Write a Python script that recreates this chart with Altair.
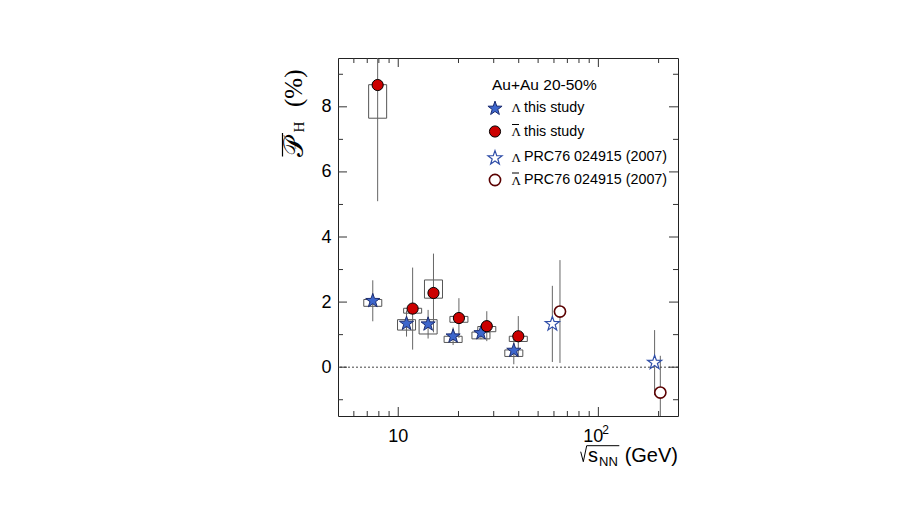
import altair as alt
import pandas as pd

# ---------------- data ----------------
lam_x = [7.46, 11.0, 14.1, 18.8, 25.9, 37.8]
lam_y = [2.04, 1.34, 1.32, 0.95, 1.05, 0.51]
lam_stat = [0.63, 0.40, 0.44, 0.27, 0.19, 0.42]
lam_sys_lo = [1.87, 1.14, 1.02, 0.76, 0.87, 0.33]
lam_sys_hi = [2.08, 1.46, 1.46, 0.95, 1.08, 0.53]

alam_x = [7.89, 11.8, 15.0, 20.1, 27.7, 39.8]
alam_y = [8.67, 1.80, 2.28, 1.51, 1.26, 0.95]
alam_stat = [3.57, 1.26, 1.21, 0.61, 0.46, 0.62]
alam_sys_lo = [7.65, 1.66, 2.12, 1.38, 1.09, 0.79]
alam_sys_hi = [8.68, 1.81, 2.68, 1.56, 1.25, 0.95]

prc_lam_x = [58.9, 191.0]
prc_lam_y = [1.33, 0.14]
prc_lam_err = [1.17, 1.00]

prc_alam_x = [64.3, 204.0]
prc_alam_y = [1.71, -0.78]
prc_alam_err = [1.58, 1.13]

x_major = [10, 100]
x_major_text = ["10", "10"]
x_major_exp = ["", "2"]
x_minor = [6, 7, 8, 9, 20, 30, 40, 50, 60, 70, 80, 90, 200]
y_major = [0, 2, 4, 6, 8]
y_minor = [-1, 1, 3, 5, 7, 9]

legend_title = "Au+Au 20-50%"
legend_texts = ["this study", "this study", "PRC76 024915 (2007)", "PRC76 024915 (2007)"]

# ---------------- layout ----------------
W, H = 340, 358
BOX_HALF = 0.045  # half width of systematic boxes in decades
FONT = "Liberation Sans"
SERIF = "Liberation Serif"
STAR = ("M0,-1L0.235,-0.324L0.951,-0.309L0.380,0.124L0.588,0.809L0,0.4"
        "L-0.588,0.809L-0.380,0.124L-0.951,-0.309L-0.235,-0.324Z")

xs = alt.Scale(type="log", domain=[5, 250], nice=False)
ys = alt.Scale(domain=[-1.5, 9.5], nice=False, zero=False)

y_axis = alt.Axis(values=y_major, ticks=False, tickSize=0, domain=False, grid=False,
                  title=None, labelFont=FONT, labelFontSize=18, labelColor="black",
                  labelPadding=7)

X = lambda f: alt.X(f, type="quantitative", scale=xs, axis=None)
Y = lambda f: alt.Y(f, type="quantitative", scale=ys, axis=y_axis)

def df_points(x, y):
    return pd.DataFrame({"x": x, "y": y})

err = pd.DataFrame({
    "x": lam_x + alam_x + prc_lam_x + prc_alam_x,
    "lo": [a - b for a, b in zip(lam_y, lam_stat)] + [a - b for a, b in zip(alam_y, alam_stat)]
          + [a - b for a, b in zip(prc_lam_y, prc_lam_err)] + [a - b for a, b in zip(prc_alam_y, prc_alam_err)],
    "hi": [a + b for a, b in zip(lam_y, lam_stat)] + [a + b for a, b in zip(alam_y, alam_stat)]
          + [a + b for a, b in zip(prc_lam_y, prc_lam_err)] + [a + b for a, b in zip(prc_alam_y, prc_alam_err)],
})

boxes = pd.DataFrame({
    "x1": [v / 10 ** BOX_HALF for v in lam_x + alam_x],
    "x2": [v * 10 ** BOX_HALF for v in lam_x + alam_x],
    "lo": lam_sys_lo + alam_sys_lo,
    "hi": lam_sys_hi + alam_sys_hi,
})

tick_color = "#333"
xmaj = pd.DataFrame({"v": x_major, "t": x_major_text, "e": x_major_exp})
xmin = pd.DataFrame({"v": x_minor})
ymaj = pd.DataFrame({"v": y_major})
ymin = pd.DataFrame({"v": y_minor})

ticks = []
for d, L in [(xmaj, 9), (xmin, 5)]:
    ticks.append(alt.Chart(d).mark_rule(color=tick_color, strokeWidth=1).encode(
        x=X("v"), y=alt.value(H), y2=alt.value(H - L)))
    ticks.append(alt.Chart(d).mark_rule(color=tick_color, strokeWidth=1).encode(
        x=X("v"), y=alt.value(0), y2=alt.value(L)))
for d, L in [(ymaj, 9), (ymin, 5)]:
    ticks.append(alt.Chart(d).mark_rule(color=tick_color, strokeWidth=1).encode(
        y=Y("v"), x=alt.value(0), x2=alt.value(L)))
    ticks.append(alt.Chart(d).mark_rule(color=tick_color, strokeWidth=1).encode(
        y=Y("v"), x=alt.value(W - L), x2=alt.value(W)))

# x tick labels: "10" and "10^2"
xlab_10 = alt.Chart(xmaj).transform_filter("datum.e == ''").mark_text(
    font=FONT, fontSize=18, baseline="alphabetic", align="center", color="black").encode(
    x=X("v"), y=alt.value(H + 26), text="t:N")
xlab_100 = alt.Chart(xmaj).transform_filter("datum.e != ''").mark_text(
    font=FONT, fontSize=18, baseline="alphabetic", align="center", color="black", dx=-5).encode(
    x=X("v"), y=alt.value(H + 26), text="t:N")
xlab_exp = alt.Chart(xmaj).transform_filter("datum.e != ''").mark_text(
    font=FONT, fontSize=12, baseline="alphabetic", align="left", color="black", dx=4).encode(
    x=X("v"), y=alt.value(H + 18), text="e:N")

zero_line = alt.Chart(pd.DataFrame({"y": [0]})).mark_rule(
    color="#444", strokeWidth=1, strokeDash=[2, 2]).encode(y=Y("y"))

box_layer = alt.Chart(boxes).mark_rect(fillOpacity=0, stroke="#555", strokeWidth=1, clip=True).encode(
    x=X("x1"), x2="x2", y=Y("lo"), y2="hi")

err_layer = alt.Chart(err).mark_rule(color="#666", strokeWidth=1, clip=True).encode(
    x=X("x"), y=Y("lo"), y2="hi")

STAR_SIZE = 220
CIRC_SIZE = 125
blue_fill, blue_edge = "#3d66cc", "#1c2c70"
red_fill = "#cc0000"

lam_pts = alt.Chart(df_points(lam_x, lam_y)).mark_point(
    shape=STAR, filled=True, size=STAR_SIZE, fill=blue_fill, stroke=blue_edge, strokeWidth=1,
    opacity=1, fillOpacity=1).encode(x=X("x"), y=Y("y"))
alam_pts = alt.Chart(df_points(alam_x, alam_y)).mark_point(
    shape="circle", filled=True, size=CIRC_SIZE, fill=red_fill, stroke="black", strokeWidth=1,
    opacity=1, fillOpacity=1).encode(x=X("x"), y=Y("y"))
prc_lam_pts = alt.Chart(df_points(prc_lam_x, prc_lam_y)).mark_point(
    shape=STAR, filled=True, size=STAR_SIZE, fill="white", stroke="#2f4ea8", strokeWidth=1.2,
    opacity=1, fillOpacity=1).encode(x=X("x"), y=Y("y"))
prc_alam_pts = alt.Chart(df_points(prc_alam_x, prc_alam_y)).mark_point(
    shape="circle", filled=True, size=CIRC_SIZE, fill="white", stroke="#5a0000", strokeWidth=1.6,
    opacity=1, fillOpacity=1).encode(x=X("x"), y=Y("y"))

one = pd.DataFrame({"a": [0]})

def txt(s, x, y, size, font=FONT, align="left", baseline="middle", angle=0, color="black", style="normal"):
    return alt.Chart(one).mark_text(text=s, font=font, fontSize=size, align=align, baseline=baseline,
                                    angle=angle, color=color, fontStyle=style).encode(
        x=alt.value(x), y=alt.value(y))

def seg(x1, y1, x2, y2, color="black", w=1):
    return alt.Chart(one).mark_rule(color=color, strokeWidth=w).encode(
        x=alt.value(x1), y=alt.value(y1), x2=alt.value(x2), y2=alt.value(y2))

# ---------------- legend ----------------
leg = [txt(legend_title, 154, 27, 15.5)]
row_y = [49.5, 73.5, 99, 122]
mx = 157
leg.append(alt.Chart(one).mark_point(shape=STAR, filled=True, size=STAR_SIZE, fill=blue_fill,
                                     stroke=blue_edge, strokeWidth=1, opacity=1).encode(
    x=alt.value(mx), y=alt.value(row_y[0] + 1)))
leg.append(alt.Chart(one).mark_point(shape="circle", filled=True, size=CIRC_SIZE, fill=red_fill,
                                     stroke="black", strokeWidth=1, opacity=1).encode(
    x=alt.value(mx), y=alt.value(row_y[1])))
leg.append(alt.Chart(one).mark_point(shape=STAR, filled=True, size=STAR_SIZE, fill="white",
                                     stroke="#2f4ea8", strokeWidth=1.2, opacity=1).encode(
    x=alt.value(mx), y=alt.value(row_y[2] + 1)))
leg.append(alt.Chart(one).mark_point(shape="circle", filled=True, size=CIRC_SIZE, fill="white",
                                     stroke="#5a0000", strokeWidth=1.6, opacity=1).encode(
    x=alt.value(mx), y=alt.value(row_y[3])))
for i, (ry, t) in enumerate(zip(row_y, legend_texts)):
    leg.append(txt("Λ", 173.5, ry + 0.5, 13, font=SERIF))
    leg.append(txt(t, 186, ry, 14.3))
    if i in (1, 3):
        leg.append(seg(174, ry - 7, 181, ry - 7, w=1))

# ---------------- axis titles ----------------
titles = []
# x title: sqrt(s_NN) (GeV)
titles += [seg(242.7, 393.7, 245.3, 403.7), seg(245.3, 403.7, 248.7, 387.7),
           seg(248.7, 387.7, 281.3, 387.7)]
titles.append(txt("s", 250, 404, 20, baseline="alphabetic"))
titles.append(txt("NN", 261, 407.5, 13, baseline="alphabetic"))
titles.append(txt("(GeV)", 340, 404, 20, align="right", baseline="alphabetic"))
# y title: P-bar_H (%)
titles.append(txt("𝒫", -35, 99, 27, font=SERIF, baseline="alphabetic", angle=270))
titles.append(txt("H", -34.5, 74.5, 15, font=SERIF, baseline="alphabetic", angle=270))
titles.append(txt("(%)", -36, 49, 25, font=SERIF, baseline="alphabetic", angle=270))
titles.append(seg(-55.5, 75, -55.5, 98.5, w=1.2))

chart = alt.layer(
    box_layer, err_layer, zero_line, *ticks, xlab_10, xlab_100, xlab_exp,
    lam_pts, alam_pts, prc_lam_pts, prc_alam_pts, *leg, *titles
).properties(
    width=W, height=H,
    padding={"left": 330, "top": 50, "right": 220, "bottom": 80},
    autosize=alt.AutoSizeParams(type="none"),
    background="white",
).configure_view(stroke="#222", strokeWidth=1)

chart.save("out.html", embed_options={"renderer": "svg", "actions": False})
